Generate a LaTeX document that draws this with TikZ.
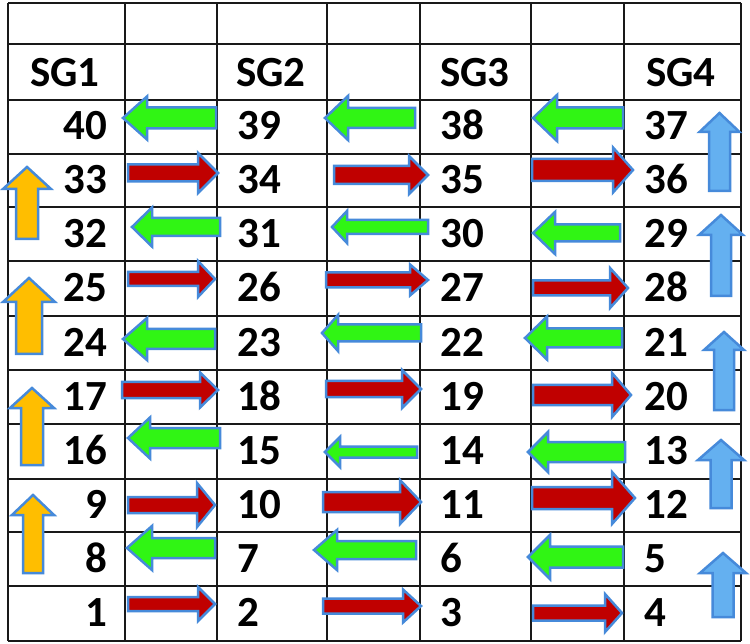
\documentclass[tikz,border=0pt]{standalone}
\usepackage{fontspec}
\setmainfont{Carlito}
\definecolor{grn}{RGB}{48,245,20}
\definecolor{rd}{RGB}{192,0,0}
\definecolor{org}{RGB}{255,190,0}
\definecolor{lblue}{RGB}{100,176,240}
\definecolor{outl}{RGB}{70,138,218}
\newcommand{\harr}[7]{% tail, base, tip, y, shaft half, head half, colour
  \draw[blockarrow, fill=#7] (#1,{#4-#5}) -- (#2,{#4-#5}) -- (#2,{#4-#6}) -- (#3,#4)
    -- (#2,{#4+#6}) -- (#2,{#4+#5}) -- (#1,{#4+#5}) -- cycle;}
\newcommand{\varr}[7]{% x, bottom, base, tip, shaft half, head half, colour
  \draw[blockarrow, fill=#7] ({#1-#5},#2) -- ({#1-#5},#3) -- ({#1-#6},#3) -- (#1,#4)
    -- ({#1+#6},#3) -- ({#1+#5},#3) -- ({#1+#5},#2) -- cycle;}
\begin{document}
\begin{tikzpicture}[x=1pt,y=-1pt,
  gridline/.style={line width=2pt, black!90},
  blockarrow/.style={draw=outl, line width=2.5pt, line join=miter},
  numL/.style={anchor=base west, inner sep=0pt, font=\fontsize{43}{46}\selectfont\bfseries},
  numR/.style={anchor=base east, inner sep=0pt, font=\fontsize{43}{46}\selectfont\bfseries}]
\useasboundingbox[fill=white] (0,0) rectangle (750,644);
% grid
\foreach \yy in {3,44,100,154,207,261,316,370,424,479,532,586,641}
  \draw[gridline] (8,\yy) -- (741,\yy);
\foreach \xx in {8,125,217,327,420,531,624,741}
  \draw[gridline] (\xx,3) -- (\xx,641);
% horizontal arrows, column A
\harr{216}{147}{123}{118}{10.5}{21.5}{grn}
\harr{128}{198}{218}{173}{8.5}{20}{rd}
\harr{220}{152}{132}{227}{9}{19.5}{grn}
\harr{128}{198}{215}{279}{7}{18}{rd}
\harr{215}{147}{123}{339}{10}{21}{grn}
\harr{122}{200}{218}{390}{8}{17.5}{rd}
\harr{220}{150}{128}{438}{10}{20.5}{grn}
\harr{128}{197}{215}{505}{8}{22}{rd}
\harr{215}{152}{127}{548}{10}{22}{grn}
\harr{128}{198}{215}{604}{7}{17}{rd}
% column B
\harr{415}{348}{325}{118}{10}{22}{grn}
\harr{334}{409}{428}{175}{9}{19}{rd}
\harr{428}{347}{332}{227}{7}{16}{grn}
\harr{326}{410}{428}{280}{7.5}{15.5}{rd}
\harr{421}{338}{322}{333}{8.5}{18}{grn}
\harr{326}{402}{421}{389}{8}{19}{rd}
\harr{417}{340}{325}{452}{5.5}{15}{grn}
\harr{323}{400}{421}{502}{10}{22}{rd}
\harr{416}{337}{314}{550}{9}{20}{grn}
\harr{323}{403}{421}{606}{7.5}{16.5}{rd}
% column C
\harr{623}{557}{533}{118}{10.5}{23}{grn}
\harr{532}{613}{633}{170}{11}{22.5}{rd}
\harr{620}{555}{533}{233}{8.5}{21}{grn}
\harr{533}{610}{628}{288}{7.5}{20}{rd}
\harr{622}{547}{525}{338}{9.5}{21.5}{grn}
\harr{533}{612}{631}{395}{10}{22}{rd}
\harr{625}{548}{528}{452}{10}{20}{grn}
\harr{532}{612}{635}{498}{11}{26}{rd}
\harr{623}{550}{528}{557}{10.5}{22}{grn}
\harr{533}{605}{622}{613}{7.5}{19}{rd}
% vertical arrows, orange
\varr{27}{239}{189}{167}{11}{24}{org}
\varr{29}{354}{302}{278}{13}{26}{org}
\varr{32}{465}{408}{388}{11}{22}{org}
\varr{33}{573}{515}{495}{10}{21}{org}
% vertical arrows, blue
\varr{719.5}{191}{132}{113}{10.5}{20}{lblue}
\varr{721}{296}{235}{215}{10}{22}{lblue}
\varr{724}{410}{350}{332}{10}{20}{lblue}
\varr{721}{508}{460}{440}{10.5}{23}{lblue}
\varr{723}{617}{573}{553}{10.5}{23}{lblue}
% headers
\node[numL] (h1) at (30,87) {SG1};
\node[numL] (h2) at (236,87) {SG2};
\node[numL] (h3) at (440,87) {SG3};
\node[numL] (h4) at (646,87) {SG4};
% numbers
\foreach \a/\b/\c/\d/\yy [count=\i] in {40/39/38/37/140, 33/34/35/36/194, 32/31/30/29/248, 25/26/27/28/302, 24/23/22/21/357, 17/18/19/20/410, 16/15/14/13/464, 9/10/11/12/518, 8/7/6/5/572, 1/2/3/4/626}{
  \node[numR] (n1-\i) at (107,\yy) {\a};
  \node[numL] (n2-\i) at (237,\yy) {\b};
  \node[numL] (n3-\i) at (440,\yy) {\c};
  \node[numL] (n4-\i) at (644,\yy) {\d};
}
\end{tikzpicture}
\end{document}
